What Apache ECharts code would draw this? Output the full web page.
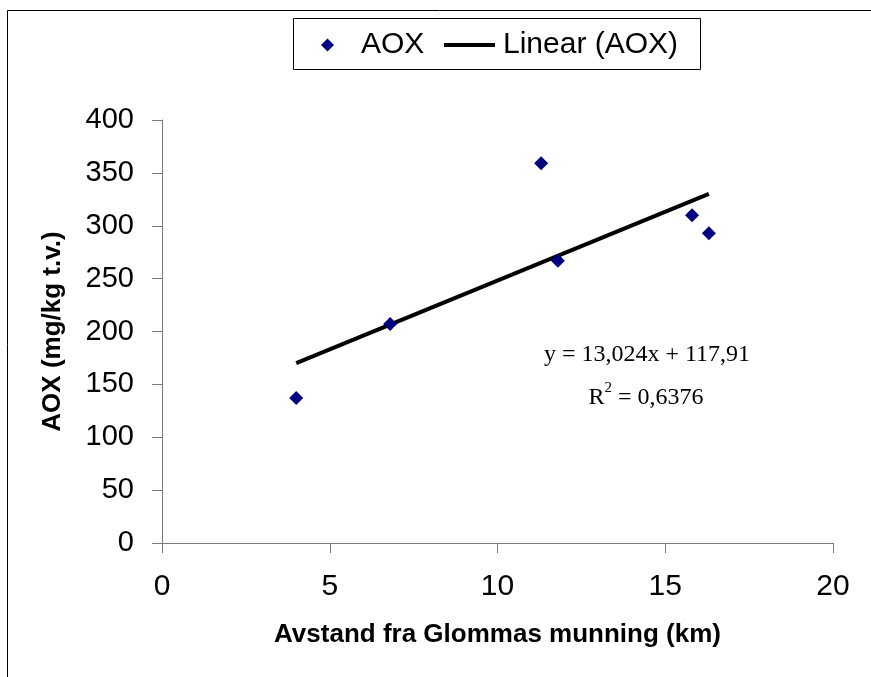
<!DOCTYPE html>
<html>
<head>
<meta charset="utf-8">
<script src="https://cdn.jsdelivr.net/npm/echarts@6/dist/echarts.min.js"></script>
<style>
  html, body { margin: 0; padding: 0; background: #fff; }
  #main { width: 871px; height: 677px; }
</style>
</head>
<body>
<div id="main"></div>
<script>
// distance from Glomma's mouth (km) and AOX (mg/kg t.v.)
var distKm = [4.0, 6.8, 11.3, 11.8, 15.8, 16.3];
var aoxVals = [137, 207, 359, 267, 310, 293];
// trendline as printed on the chart
var slope = 13.024;
var intercept = 117.91;
var eqText = 'y = 13,024x + 117,91';
var r2Text = '0,6376';

var xMin = Math.min.apply(null, distKm);
var xMax = Math.max.apply(null, distKm);
var trendData = [[xMin, slope * xMin + intercept], [xMax, slope * xMax + intercept]];

var points = [];
for (var i = 0; i < distKm.length; i++) {
  points.push([distKm[i], aoxVals[i]]);
}

var chart = echarts.init(document.getElementById('main'), null, { renderer: 'canvas' });

var axisCol = '#7a7a7a';
var font = 'Liberation Sans, Arial, sans-serif';

var option = {
  backgroundColor: '#fff',
  animation: false,
  grid: { left: 162, right: 38, top: 120, bottom: 134 },
  legend: [{
    data: ['AOX'],
    left: 321,
    top: 30,
    padding: 0,
    itemWidth: 13,
    itemHeight: 13,
    textStyle: { fontFamily: font, fontSize: 30, color: '#000', padding: [0, 0, 0, 22] }
  }, {
    data: [{ name: 'Linear (AOX)', icon: 'rect' }],
    left: 444,
    top: 30,
    padding: 0,
    itemWidth: 51,
    itemHeight: 4,
    itemStyle: { color: '#000' },
    textStyle: { fontFamily: font, fontSize: 30, color: '#000', padding: [0, 0, 0, 3] }
  }],
  xAxis: {
    type: 'value',
    min: 0,
    max: 20,
    interval: 5,
    name: 'Avstand fra Glommas munning (km)',
    nameLocation: 'middle',
    nameGap: 79,
    nameTextStyle: { fontFamily: font, fontSize: 26, fontWeight: 'bold', color: '#000' },
    axisLine: { lineStyle: { color: axisCol, width: 1 } },
    axisTick: { show: true, length: 10, lineStyle: { color: axisCol } },
    axisLabel: { fontFamily: font, fontSize: 30, color: '#000', margin: 29 },
    splitLine: { show: false }
  },
  yAxis: {
    type: 'value',
    min: 0,
    max: 400,
    interval: 50,
    name: 'AOX (mg/kg t.v.)',
    nameLocation: 'middle',
    nameGap: 96,
    nameTextStyle: { fontFamily: font, fontSize: 26, fontWeight: 'bold', color: '#000' },
    axisLine: { show: true, lineStyle: { color: axisCol, width: 1 } },
    axisTick: { show: true, length: 10, lineStyle: { color: axisCol } },
    axisLabel: { fontFamily: font, fontSize: 29, color: '#000', margin: 28 },
    splitLine: { show: false }
  },
  series: [{
    name: 'AOX',
    type: 'scatter',
    symbol: 'diamond',
    symbolSize: 14,
    itemStyle: { color: '#000080', opacity: 1 },
    data: points,
    z: 3
  }, {
    name: 'Linear (AOX)',
    type: 'line',
    symbol: 'none',
    lineStyle: { color: '#000', width: 4 },
    itemStyle: { color: '#000' },
    data: trendData,
    z: 2
  }],
  graphic: [{
    type: 'rect',
    shape: { x: 7.5, y: 10.5, width: 900, height: 700 },
    style: { fill: 'none', stroke: '#000', lineWidth: 1 },
    silent: true
  }, {
    type: 'rect',
    shape: { x: 293.5, y: 18.5, width: 407, height: 51 },
    style: { fill: 'none', stroke: '#000', lineWidth: 1 },
    silent: true
  }, {
    type: 'text',
    x: 647,
    y: 355,
    style: {
      text: eqText,
      font: '24px "Liberation Serif", "Times New Roman", serif',
      fill: '#000',
      textAlign: 'center',
      textVerticalAlign: 'middle'
    }
  }, {
    type: 'text',
    x: 646,
    y: 395,
    style: {
      text: '{a|R}{s|2}{a| = ' + r2Text + '}',
      textAlign: 'center',
      textVerticalAlign: 'middle',
      rich: {
        a: { fontFamily: 'Liberation Serif', fontSize: 24, color: '#000', lineHeight: 29, verticalAlign: 'bottom' },
        s: { fontFamily: 'Liberation Serif', fontSize: 15, color: '#000', lineHeight: 29, verticalAlign: 'top' }
      }
    }
  }]
};

chart.setOption(option);
</script>
</body>
</html>
